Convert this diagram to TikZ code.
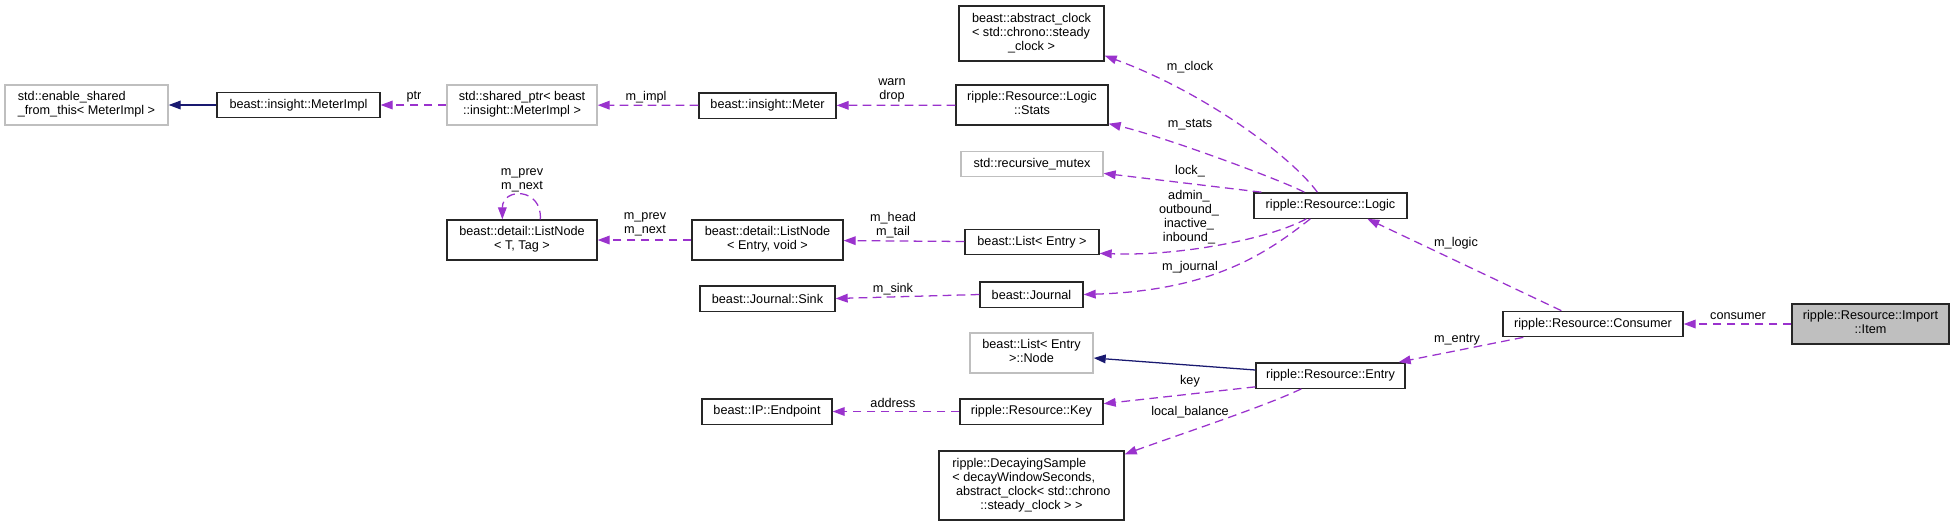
\documentclass[tikz,border=0pt]{standalone}
\usepackage{fontspec}
\setmainfont{Liberation Sans}
\usepackage{xcolor}
\usepackage{tikz}
\usetikzlibrary{calc, arrows.meta}

\definecolor{usecol}{HTML}{9A32CD}
\definecolor{inhcol}{HTML}{191970}
\definecolor{grey75}{HTML}{BFBFBF}

% first lines left, last line centred
\newcommand{\nodetext}[2]{\begin{tabular}{@{}l@{}}#1\\\multicolumn{1}{@{}c@{}}{#2}\end{tabular}}

\begin{document}
\begin{tikzpicture}[
    x=0.75pt, y=-0.75pt,
    font=\fontsize{9.5}{10.5}\selectfont,
    cls/.style={rectangle, draw=black!85, line width=1pt, fill=white, inner sep=0pt, minimum height=19pt},
    ext/.style={cls, draw=grey75},
    main/.style={cls, fill=grey75},
    use/.style={draw=usecol, line width=0.95pt, dash pattern=on 6.5pt off 4pt, -{Triangle[length=9pt, width=6.5pt]}},
    inh/.style={draw=inhcol, line width=0.95pt, -{Triangle[length=9pt, width=6.5pt]}},
    lbl/.style={inner sep=0pt, align=center}
]
    \useasboundingbox (0,0) rectangle (1955,526);

    % Classes
    \node[ext, minimum width=122.25pt, minimum height=30pt] (enable) at (86.5,105) {\nodetext{std::enable\_shared}{\_from\_this< MeterImpl >}};
    \node[cls, minimum width=122.25pt] (meterimpl) at (298.5,105) {beast::insight::MeterImpl};
    \node[ext, minimum width=112.5pt, minimum height=30pt] (shptr) at (522,105) {\nodetext{std::shared\_ptr< beast}{::insight::MeterImpl >}};
    \node[cls, minimum width=102.75pt] (meter) at (767.5,105.5) {beast::insight::Meter};
    \node[cls, minimum width=114pt, minimum height=30pt] (stats) at (1032,105) {\nodetext{ripple::Resource::Logic}{::Stats}};
    \node[cls, minimum width=108.75pt, minimum height=41.25pt] (aclock) at (1031.5,33.5) {\nodetext{beast::abstract\_clock\\< std::chrono::steady}{\_clock >}};
    \node[ext, minimum width=106.5pt] (mutex) at (1032,164) {std::recursive\_mutex};
    \node[cls, minimum width=112.5pt, minimum height=30pt] (listnodeT) at (522,240) {\nodetext{beast::detail::ListNode}{< T, Tag >}};
    \node[cls, minimum width=113.25pt, minimum height=30pt] (listnodeE) at (767.5,240) {\nodetext{beast::detail::ListNode}{< Entry, void >}};
    \node[cls, minimum width=100.5pt] (list) at (1032,242) {beast::List< Entry >};
    \node[cls, minimum width=114.75pt] (logic) at (1330.5,205.5) {ripple::Resource::Logic};
    \node[cls, minimum width=101.25pt] (sink) at (767.5,298.5) {beast::Journal::Sink};
    \node[cls, minimum width=77.25pt] (journal) at (1031.5,294.5) {beast::Journal};
    \node[ext, minimum width=92.25pt, minimum height=30pt] (lnode) at (1031.5,353) {\nodetext{beast::List< Entry}{>::Node}};
    \node[cls, minimum width=97.5pt] (endpoint) at (767,411.5) {beast::IP::Endpoint};
    \node[cls, minimum width=107.25pt] (key) at (1031.5,411.5) {ripple::Resource::Key};
    \node[cls, minimum width=138.75pt, minimum height=51.75pt] (decay) at (1031.5,485.5) {\nodetext{ripple::DecayingSample\\< decayWindowSeconds,\\\ abstract\_clock< std::chrono}{::steady\_clock > >}};
    \node[cls, minimum width=111.75pt] (entry) at (1330.5,375.5) {ripple::Resource::Entry};
    \node[cls, minimum width=135pt] (consumer) at (1593,324) {ripple::Resource::Consumer};
    \node[main, minimum width=117.75pt, minimum height=30pt] (item) at (1870.5,324) {\nodetext{ripple::Resource::Import}{::Item}};

    % Inheritance
    \draw[inh] (meterimpl) -- (enable);
    \draw[inh] ($(entry.west)+(0,-5.5)$) -- ($(lnode.east)+(0,5)$);

    % Members
    \draw[use] (shptr) -- (meterimpl);
    \draw[use] (meter) -- (shptr);
    \draw[use] (stats) -- (meter);
    \draw[use] ($(logic.north west)+(64,0)$) .. controls +(-28,-38) and +(96,35) .. ($(aclock.south east)+(0,-6)$);
    \draw[use] ($(logic.north west)+(51,0)$) .. controls +(-25,-13) and +(52,12) .. ($(stats.south east)+(0,-2)$);
    \draw[use] ($(logic.north west)+(8,0)$) -- ($(mutex.south east)+(0,-4)$);
    \draw[use] ($(logic.south west)+(53,0)$) .. controls +(-37,20) and +(81,3) .. ($(list.south east)+(0,-2)$);
    \draw[use] ($(logic.south west)+(57,0)$) .. controls +(-41,32) and +(132,-4) .. (journal.east);
    \draw[use] (journal.west) -- (sink.east);
    \draw[use] (listnodeE) -- (listnodeT);
    \draw[use] (list) -- (listnodeE);
    \draw[use] ($(listnodeT.north west)+(94,0)$) .. controls +(2,-32) and +(0,-32) .. ($(listnodeT.north west)+(56,0)$);
    \draw[use] ($(entry.south west)+(0,-2)$) -- ($(key.north east)+(0,5.5)$);
    \draw[use] (key) -- (endpoint);
    \draw[use] ($(entry.south west)+(46,0)$) .. controls +(-35,17) and +(55,-20) .. ($(decay.north east)+(0,4)$);
    \draw[use] ($(consumer.north west)+(59,0)$) -- ($(logic.south west)+(114,0)$);
    \draw[use] ($(consumer.south west)+(21,0)$) -- ($(entry.north east)+(-7,0)$);
    \draw[use] (item) -- (consumer);

    % Labels
    \node[lbl] (lptr) at (414,97) {ptr};
    \node[lbl] (limpl) at (646,97) {m\_impl};
    \node[lbl] (lwarn) at (892,90) {warn\\drop};
    \node[lbl] (lclock) at (1190,67) {m\_clock};
    \node[lbl] (lstats) at (1190,125) {m\_stats};
    \node[lbl] (llock) at (1190,171) {lock\_};
    \node[lbl] (llists) at (1189,217.5) {admin\_\\outbound\_\\inactive\_\\inbound\_};
    \node[lbl] (ljournal) at (1190,267) {m\_journal};
    \node[lbl] (lsink) at (893,289) {m\_sink};
    \node[lbl] (lprev) at (645,224.5) {m\_prev\\m\_next};
    \node[lbl] (lhead) at (893,225) {m\_head\\m\_tail};
    \node[lbl] (lself) at (522,180) {m\_prev\\m\_next};
    \node[lbl] (lkey) at (1190,381) {key};
    \node[lbl] (laddress) at (893,403) {address};
    \node[lbl] (lbalance) at (1190,412) {local\_balance};
    \node[lbl] (llogic) at (1456,243) {m\_logic};
    \node[lbl] (lentry) at (1457,340) {m\_entry};
    \node[lbl] (lconsumer) at (1738,316) {consumer};

\end{tikzpicture}
\end{document}
